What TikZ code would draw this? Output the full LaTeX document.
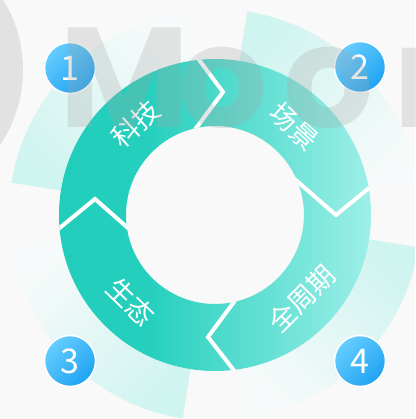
\documentclass[tikz,border=0pt]{standalone}
\usepackage{fontspec}
\newfontfamily\cjk{Noto Sans CJK SC}
\newfontfamily\wmfont{Poppins}
\definecolor{bg}{HTML}{F9F9F9}
\definecolor{tealA}{HTML}{21CDBB}
\definecolor{tealB}{HTML}{25CFBD}
\definecolor{tealC}{HTML}{9DEFE8}
\definecolor{paleS}{HTML}{D0F4F0}
\definecolor{paleF}{HTML}{F7FAFA}
\definecolor{blueL}{HTML}{66CDFF}
\definecolor{blueD}{HTML}{1FA3F2}
\definecolor{wm}{HTML}{A6A6A6}
\pgfdeclarehorizontalshading{ringshade}{100bp}{color(0bp)=(tealA); color(25bp)=(tealA); color(39bp)=(tealB); color(75bp)=(tealC); color(100bp)=(tealC)}
\begin{document}
\begin{tikzpicture}[x=1pt,y=1pt,
  pale/.style={top color=paleS, bottom color=paleF},
  chev/.style={draw=white, line width=4pt, line join=miter},
  lbl/.style={text=white, inner sep=0pt, font=\cjk\fontsize{27}{27}\selectfont},
  numc/.style={circle, minimum size=51pt, inner sep=0pt, draw=white, line width=1.5pt,
    top color=blueL, bottom color=blueD, shading angle=45, text=white,
    font=\cjk\fontsize{34}{34}\selectfont},
  wmtext/.style={text=wm, text opacity=0.27, inner sep=0pt, anchor=base,
    font=\wmfont\bfseries\fontsize{142}{142}\selectfont}]
\useasboundingbox (-215,-204) rectangle (200,215);
\fill[bg] (-215,-204) rectangle (200,215);
\begin{scope}
\clip (-215,-204) rectangle (200,215);
% pale background sectors
\foreach \t in {45,135,225,315}{
  \path[pale, shading angle=\t] (\t-36:140) arc[start angle=\t-36, end angle=\t+36, radius=140]
    -- (\t+36:206) arc[start angle=\t+36, end angle=\t-36, radius=206] -- cycle;
}
% main ring
\path[shading=ringshade, even odd rule] (0,0) circle[radius=156] (0,0) circle[radius=89];
% chevron dividers
\coordinate (t1) at (-27,170); \coordinate (t2) at (8,123); \coordinate (t3) at (-30,72);
\coordinate (r1) at (60,53); \coordinate (r2) at (121,0); \coordinate (r3) at (170,40);
\coordinate (b1) at (30,-72); \coordinate (b2) at (-7,-122); \coordinate (b3) at (28,-167);
\coordinate (s1) at (-170,-25); \coordinate (s2) at (-120,16); \coordinate (s3) at (-70,-28);
\begin{scope}[even odd rule]
\clip (0,0) circle[radius=156] (0,0) circle[radius=89];
\draw[chev] (t1) -- (t2) -- (t3);
\draw[chev] (r1) -- (r2) -- (r3);
\draw[chev] (b1) -- (b2) -- (b3);
\draw[chev] (s1) -- (s2) -- (s3);
\end{scope}
% labels
\node[lbl, rotate=42] (l1) at (131:121) {科技};
\node[lbl, rotate=-42] (l2) at (48:119) {场景};
\node[lbl, rotate=45] (l3) at (-44:121) {全周期};
\node[lbl, rotate=-44] (l4) at (226:121) {生态};
% number badges
\node[numc] (n1) at (-145,147) {1};
\node[numc] (n2) at (145,148) {2};
\node[numc] (n3) at (-145,-146) {3};
\node[numc] (n4) at (145,-146) {4};
% watermark
\fill[wm, opacity=0.27] (-326,145) circle[radius=134];
\node[wmtext] (w1) at (-90,87) {M};
\node[wmtext] (w2) at (8,87) {o};
\node[wmtext] (w3) at (114,87) {o};
\node[wmtext] (w4) at (226,87) {n};
\end{scope}
\end{tikzpicture}
\end{document}
